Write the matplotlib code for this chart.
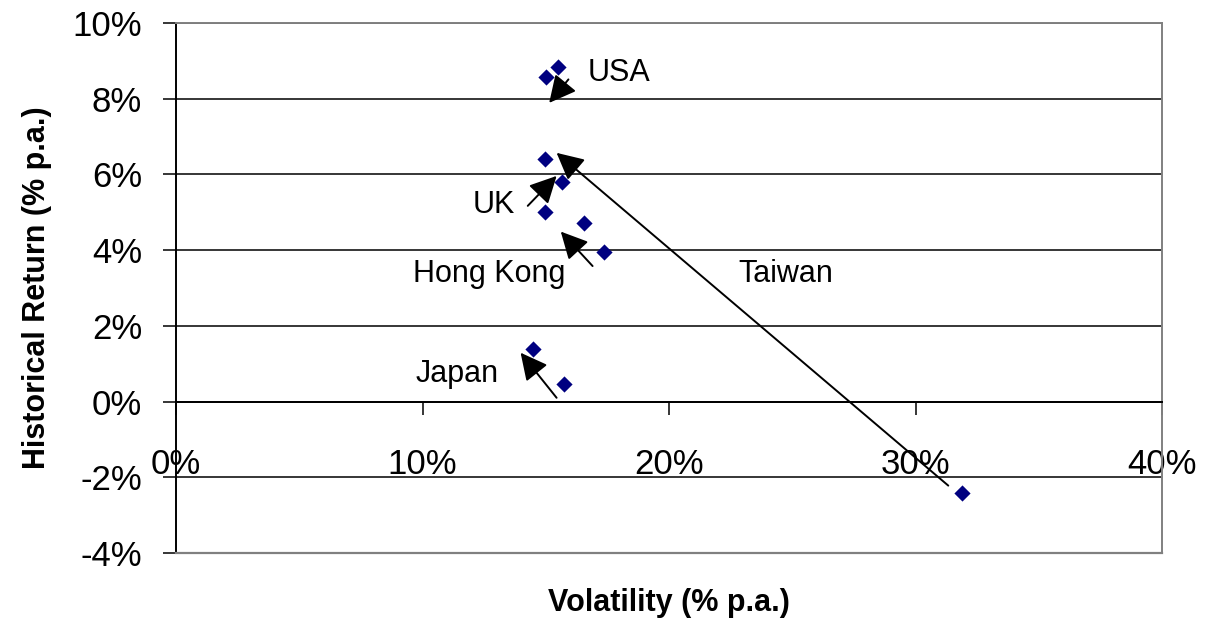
import matplotlib.pyplot as plt
import numpy as np

plt.rcParams['font.family'] = ['Liberation Sans', 'DejaVu Sans']

# volatility and return, % p.a.
volatility = [15.5, 15.0, 14.95, 15.65, 14.95, 16.55, 17.35, 14.5, 15.75, 31.9]
returns = [8.85, 8.57, 6.40, 5.80, 5.02, 4.71, 3.96, 1.38, 0.46, -2.42]

# country labels: text position, arrow tail, arrow tip
countries = ['USA', 'UK', 'Hong Kong', 'Taiwan', 'Japan']
label_xy = [(16.7, 8.67), (12.05, 5.19), (9.6, 3.37), (22.8, 3.37), (9.7, 0.72)]
arrow_from = [(15.92, 8.51), (14.27, 5.17), (16.90, 3.58), (31.33, -2.22), (15.44, 0.10)]
arrow_to = [(15.14, 7.89), (15.44, 5.96), (15.61, 4.49), (15.44, 6.57), (13.98, 1.29)]

x_ticks = [0, 10, 20, 30, 40]
y_ticks = [-4, -2, 0, 2, 4, 6, 8, 10]

fig = plt.figure(figsize=(12.05, 6.34), dpi=100)
ax = fig.add_axes([176 / 1205, 1 - 553 / 634, 986 / 1205, 530 / 634])

ax.set_xlim(0, 40)
ax.set_ylim(-4, 10)

ax.set_axisbelow(True)
ax.yaxis.grid(True, color='black', linewidth=1.1)

ax.scatter(volatility, returns, marker='D', s=68, color='#000080', zorder=4, linewidths=0)

for name, lxy, a0, a1 in zip(countries, label_xy, arrow_from, arrow_to):
    ax.text(lxy[0], lxy[1], name, fontsize=22, ha='left', va='center', zorder=5)
    ax.annotate('', xy=a1, xytext=a0,
                arrowprops=dict(arrowstyle='-|>,head_length=0.75,head_width=0.38',
                                mutation_scale=22, color='black', lw=1.4,
                                shrinkA=0, shrinkB=0),
                zorder=5)

# x axis crosses at zero, frame in grey
ax.spines['bottom'].set_position(('data', 0))
ax.spines['bottom'].set_color('black')
ax.spines['bottom'].set_linewidth(1.4)
ax.spines['left'].set_color('black')
ax.spines['left'].set_linewidth(1.4)
for side in ['top', 'right']:
    ax.spines[side].set_color('#808080')
    ax.spines[side].set_linewidth(1.4)
ax.axhline(-4, color='#808080', linewidth=1.6, zorder=3, clip_on=False)

ax.set_xticks(x_ticks)
ax.set_xticklabels([f'{v}%' for v in x_ticks])
ax.set_yticks(y_ticks)
ax.set_yticklabels([f'{v}%' for v in y_ticks])
ax.tick_params(axis='both', direction='out', length=9.4, width=1.1, labelsize=25, color='black')
ax.tick_params(axis='x', pad=24)
ax.tick_params(axis='y', pad=15)

fig.text(669 / 1205, 1 - 603 / 634, 'Volatility (% p.a.)', fontsize=22, fontweight='bold',
         ha='center', va='center')
fig.text(37 / 1205, 1 - 288 / 634, 'Historical Return (% p.a.)', fontsize=22, fontweight='bold',
         ha='center', va='center', rotation=90)

fig.savefig('out.png', dpi=100)
